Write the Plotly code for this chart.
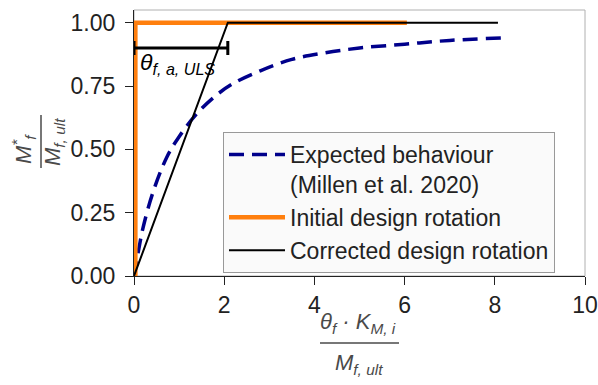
import plotly.graph_objects as go

# ---- data ----
millen_x = [0.0, 0.1, 0.2, 0.42, 0.73, 1.0, 1.39, 1.8, 2.2, 2.8, 3.5, 4.2, 5.0, 6.0, 7.0, 8.15]
millen_y = [0.0, 0.10, 0.19, 0.33, 0.47, 0.55, 0.64, 0.71, 0.76, 0.81, 0.855, 0.88, 0.90, 0.915, 0.93, 0.94]
initial_x = [0.03, 0.03, 6.05]
initial_y = [0.0, 1.0, 1.0]
corrected_x = [0.0, 2.08, 8.07]
corrected_y = [0.0, 1.0, 1.0]
uls_center = [1.04]
uls_y = [0.9]
uls_err = [1.04]

FONT = "Liberation Sans, Arial, Helvetica, sans-serif"

# plot area in pixels
L, R, T, B = 134, 585, 10, 276
W, H = 598, 385

def px(x):
    return (x - L) / (R - L)

def py(y):
    return (B - y) / (B - T)

fig = go.Figure()
fig.add_trace(go.Scatter(
    x=millen_x, y=millen_y, mode="lines", line_shape="spline",
    line=dict(color="#00008B", width=3.5, dash="15px,8px"),
    name="Expected behaviour<br>(Millen et al. 2020)"))
fig.add_trace(go.Scatter(
    x=initial_x, y=initial_y, mode="lines",
    line=dict(color="#FF7F0E", width=4.5),
    name="Initial design rotation"))
fig.add_trace(go.Scatter(
    x=corrected_x, y=corrected_y, mode="lines",
    line=dict(color="black", width=2),
    name="Corrected design rotation"))
fig.add_trace(go.Scatter(
    x=uls_center, y=uls_y, mode="markers",
    marker=dict(size=1, color="rgba(0,0,0,0)"),
    error_x=dict(type="data", array=uls_err, color="black", thickness=3, width=7),
    showlegend=False, hoverinfo="skip"))

fig.add_annotation(x=0.08, y=0.905, xref="x", yref="y", xanchor="left", yanchor="top",
                   text="<i>θ<sub>f, a, ULS</sub></i>", showarrow=False,
                   font=dict(family=FONT, size=23, color="black"))

# axis titles as fractions
title_color = "#4a4a4a"
fig.add_annotation(x=px(358), y=py(323), xref="paper", yref="paper",
                   xanchor="center", yanchor="middle",
                   text="<i>θ<sub>f</sub> · K<sub>M, i</sub></i>", showarrow=False,
                   font=dict(family=FONT, size=22, color=title_color))
fig.add_shape(type="line", xref="paper", yref="paper", x0=px(320), x1=px(399),
              y0=py(343), y1=py(343), line=dict(color=title_color, width=1.5))
fig.add_annotation(x=px(359), y=py(364), xref="paper", yref="paper",
                   xanchor="center", yanchor="middle",
                   text="<i>M<sub>f, ult</sub></i>", showarrow=False,
                   font=dict(family=FONT, size=22, color=title_color))

fig.add_annotation(x=px(24), y=py(149), xref="paper", yref="paper", textangle=-90,
                   xanchor="center", yanchor="middle",
                   text="<i>M<sup>*</sup><sub>f</sub></i>", showarrow=False,
                   font=dict(family=FONT, size=22, color=title_color))
fig.add_shape(type="line", xref="paper", yref="paper", x0=px(41), x1=px(41),
              y0=py(115), y1=py(168), line=dict(color=title_color, width=1.5))
fig.add_annotation(x=px(54), y=py(142), xref="paper", yref="paper", textangle=-90,
                   xanchor="center", yanchor="middle",
                   text="<i>M<sub>f, ult</sub></i>", showarrow=False,
                   font=dict(family=FONT, size=22, color=title_color))

# light frame (top/right)
fig.add_shape(type="rect", xref="paper", yref="paper", x0=0, x1=1, y0=0, y1=1,
              line=dict(color="#b0b0b0", width=1), layer="below")

fig.update_layout(
    width=W, height=H,
    margin=dict(l=L, r=W - R, t=T, b=H - B),
    paper_bgcolor="white", plot_bgcolor="white",
    font=dict(family=FONT, size=23, color="#222"),
    xaxis=dict(range=[0, 10], tickvals=[0, 2, 4, 6, 8, 10], showgrid=False, zeroline=False,
               showline=True, linecolor="#222", linewidth=1.2, ticks="outside", ticklen=8,
               tickcolor="#222", tickfont=dict(size=23, color="#222"), automargin=False),
    yaxis=dict(range=[0, 1.05], tickvals=[0, 0.25, 0.5, 0.75, 1.0],
               ticktext=["0.00", "0.25", "0.50", "0.75", "1.00"], showgrid=False, zeroline=False,
               showline=True, linecolor="#222", linewidth=1.2, ticks="outside", ticklen=8,
               ticklabelstandoff=5,
               tickcolor="#222", tickfont=dict(size=23, color="#222"), automargin=False),
    legend=dict(x=px(223), y=py(132), xanchor="left", yanchor="top",
                bgcolor="rgba(250,250,250,0.9)", bordercolor="#999", borderwidth=1,
                font=dict(family=FONT, size=23, color="#222"), valign="top",
                itemwidth=56, tracegroupgap=0),
    showlegend=True,
)

fig.write_html("out.html")
